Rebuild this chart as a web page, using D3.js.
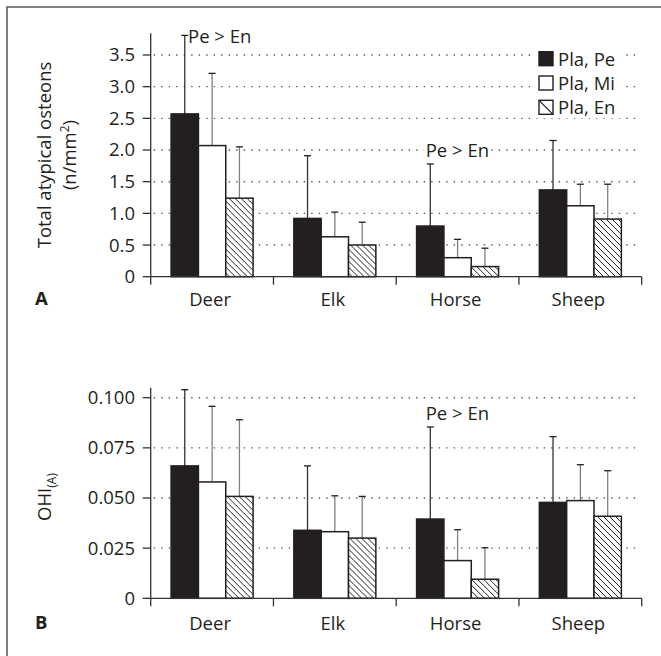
<!DOCTYPE html>
<html>
<head>
<meta charset="utf-8">
<script src="https://cdn.jsdelivr.net/npm/d3@7.9.0/dist/d3.min.js"></script>
<style>
  body { margin: 0; background: #fff; }
  svg { display: block; font-family: "Open Sans", sans-serif; }
</style>
</head>
<body>
<svg id="chart" width="661" height="656"></svg>
<script>
// data
const animals = ["Deer", "Elk", "Horse", "Sheep"];
const series = ["Pla, Pe", "Pla, Mi", "Pla, En"];

// panel A: total atypical osteons (n/mm²)
const totalMean = [[2.57, 2.07, 1.24], [0.92, 0.63, 0.50], [0.80, 0.30, 0.16], [1.37, 1.12, 0.91]];
const totalSD   = [[3.81, 3.21, 2.05], [1.91, 1.02, 0.86], [1.78, 0.59, 0.45], [2.15, 1.46, 1.46]];
const totalTicks = [0, 0.5, 1.0, 1.5, 2.0, 2.5, 3.0, 3.5];

// panel B: OHI(A)
const ohiMean = [[0.066, 0.058, 0.0508], [0.0339, 0.0332, 0.030], [0.0395, 0.0188, 0.0095], [0.0478, 0.0487, 0.0409]];
const ohiSD   = [[0.104, 0.0957, 0.089], [0.066, 0.0511, 0.0508], [0.0854, 0.0342, 0.0252], [0.0806, 0.0666, 0.0636]];
const ohiTicks = [0, 0.025, 0.05, 0.075, 0.1];

const ink = "#231f20";
const fs = 18.5;
const svg = d3.select("#chart");

// hatch pattern for the endosteal bars
const defs = svg.append("defs");
const pat = defs.append("pattern")
    .attr("id", "hatch")
    .attr("patternUnits", "userSpaceOnUse")
    .attr("width", 6).attr("height", 6);
pat.append("rect").attr("width", 6).attr("height", 6).attr("fill", "#fff");
pat.append("path").attr("d", "M-1,-1 L7,7 M-1,5 L1,7 M5,-1 L7,1")
    .attr("stroke", ink).attr("stroke-width", 1);

const fills = ["#231f20", "#fff", "url(#hatch)"];

// frame: top and left rule only
svg.append("path")
    .attr("d", "M7,656 L7,7 L661,7")
    .attr("fill", "none").attr("stroke", "#555").attr("stroke-width", 1.5);

const xLeft = 150.7, xRight = 641.7;
const x0 = d3.scaleBand().domain(animals).range([xLeft, xRight]);
const x1 = d3.scaleBand().domain(series).range([20.4, 102.4]);

function drawPanel(opt) {
  const y = d3.scaleLinear().domain([0, opt.gridTop]).range([opt.zeroY, opt.topTickY]);
  const g = svg.append("g");

  // dotted gridlines
  g.selectAll(".grid")
    .data(opt.ticks.filter(d => d > 0))
    .enter().append("line")
    .attr("x1", xLeft + 3).attr("x2", 638)
    .attr("y1", d => y(d)).attr("y2", d => y(d))
    .attr("stroke", "#555").attr("stroke-width", 1.4)
    .attr("stroke-dasharray", "1.4,6.1");

  // bars
  const groups = g.selectAll(".grp")
    .data(animals)
    .enter().append("g")
    .attr("transform", d => `translate(${x0(d)},0)`);

  groups.each(function (animal, i) {
    const gg = d3.select(this);
    series.forEach((s, j) => {
      const v = opt.mean[i][j], e = opt.err[i][j];
      const cx = x1(s) + x1.bandwidth() / 2;
      const lineCol = j === 0 ? "#333" : "#808080";
      gg.append("line")
        .attr("x1", cx).attr("x2", cx)
        .attr("y1", y(v)).attr("y2", y(e))
        .attr("stroke", lineCol).attr("stroke-width", 1.3);
      gg.append("line")
        .attr("x1", cx - 3.5).attr("x2", cx + 3.5)
        .attr("y1", y(e)).attr("y2", y(e))
        .attr("stroke", ink).attr("stroke-width", 1.3);
      gg.append("rect")
        .attr("x", x1(s))
        .attr("y", y(v))
        .attr("width", x1.bandwidth())
        .attr("height", opt.zeroY - y(v))
        .attr("fill", fills[j])
        .attr("stroke", ink).attr("stroke-width", 1.5);
    });
  });

  // y axis
  g.append("line")
    .attr("x1", xLeft).attr("x2", xLeft)
    .attr("y1", opt.zeroY).attr("y2", opt.axisTopY)
    .attr("stroke", "#333").attr("stroke-width", 1.3);
  g.selectAll(".ytick")
    .data(opt.ticks)
    .enter().append("line")
    .attr("x1", xLeft - 8).attr("x2", xLeft)
    .attr("y1", d => y(d)).attr("y2", d => y(d))
    .attr("stroke", "#333").attr("stroke-width", 1.3);
  g.selectAll(".ylab")
    .data(opt.ticks)
    .enter().append("text")
    .attr("x", 135).attr("y", d => y(d))
    .attr("dy", "0.35em")
    .attr("text-anchor", "end")
    .attr("font-size", fs).attr("fill", ink)
    .text(opt.fmt);

  // x axis
  g.append("line")
    .attr("x1", xLeft).attr("x2", xRight)
    .attr("y1", opt.zeroY).attr("y2", opt.zeroY)
    .attr("stroke", "#333").attr("stroke-width", 1.3);
  const bounds = animals.map(a => x0(a)).concat([xRight]);
  g.selectAll(".xtick")
    .data(bounds)
    .enter().append("line")
    .attr("x1", d => d).attr("x2", d => d)
    .attr("y1", opt.zeroY).attr("y2", opt.zeroY + 8)
    .attr("stroke", "#333").attr("stroke-width", 1.3);
  g.selectAll(".xlab")
    .data(animals)
    .enter().append("text")
    .attr("x", d => x0(d) + x0.bandwidth() / 2 - 2)
    .attr("y", opt.zeroY + opt.labelGap)
    .attr("text-anchor", "middle")
    .attr("font-size", fs).attr("fill", ink)
    .text(d => d);

  // panel letter
  g.append("text")
    .attr("x", 35).attr("y", opt.zeroY + opt.labelGap - 1)
    .attr("font-size", fs).attr("font-weight", "bold").attr("fill", ink)
    .text(opt.letter);

  // annotations
  opt.notes.forEach(n => {
    const t = g.append("text")
      .attr("x", n.x).attr("y", n.y)
      .attr("font-size", fs).attr("fill", ink)
      .text("Pe > En");
    if (n.bg) {
      const b = t.node().getBBox();
      g.insert("rect", "text")
        .attr("x", b.x - 2).attr("y", b.y + 2)
        .attr("width", b.width + 4).attr("height", b.height - 4)
        .attr("fill", "#fff");
    }
  });

  return g;
}

const gA = drawPanel({
  mean: totalMean, err: totalSD, ticks: totalTicks,
  gridTop: 3.5, zeroY: 276.7, topTickY: 55, axisTopY: 33.3,
  labelGap: 29, letter: "A",
  fmt: d => d === 0 ? "0" : d3.format(".1f")(d),
  notes: [{ x: 188, y: 43 }, { x: 425.7, y: 156.5, bg: true }]
});

const gB = drawPanel({
  mean: ohiMean, err: ohiSD, ticks: ohiTicks,
  gridTop: 0.1, zeroY: 598.3, topTickY: 397.7, axisTopY: 387.7,
  labelGap: 32, letter: "B",
  fmt: d => d === 0 ? "0" : d3.format(".3f")(d),
  notes: [{ x: 425.7, y: 420 }]
});

// y axis titles
const titleA = svg.append("text")
  .attr("transform", "translate(51,155) rotate(-90)")
  .attr("text-anchor", "middle")
  .attr("font-size", fs).attr("fill", ink);
titleA.append("tspan").attr("x", 0).attr("y", 0).text("Total atypical osteons");
const t2 = titleA.append("tspan").attr("x", 0).attr("y", 25).text("(n/mm");
t2.append("tspan").attr("font-size", 12).attr("dy", -7).text("2");
t2.append("tspan").attr("dy", 7).text(")");

const titleB = svg.append("text")
  .attr("transform", "translate(51,497) rotate(-90)")
  .attr("text-anchor", "middle")
  .attr("font-size", fs).attr("fill", ink);
titleB.append("tspan").text("OHI");
titleB.append("tspan").attr("font-size", 12).attr("dy", 5).text("(A)");

// legend, with white backing so the dotted grid breaks around it
const legend = svg.append("g");
series.forEach((s, j) => {
  const ly = 51.7 + j * 24.3;
  legend.append("rect")
    .attr("x", 535).attr("y", ly - 4)
    .attr("width", 88).attr("height", 22)
    .attr("fill", "#fff");
  legend.append("rect")
    .attr("x", 539).attr("y", ly)
    .attr("width", 14).attr("height", 14)
    .attr("fill", j === 2 ? "#fff" : fills[j])
    .attr("stroke", ink).attr("stroke-width", 1.4);
  if (j === 2) {
    legend.append("line")
      .attr("x1", 539).attr("y1", ly).attr("x2", 553).attr("y2", ly + 14)
      .attr("stroke", ink).attr("stroke-width", 1.2);
  }
  legend.append("text")
    .attr("x", 558).attr("y", ly + 14)
    .attr("font-size", fs).attr("fill", ink)
    .text(s);
});
</script>
</body>
</html>
